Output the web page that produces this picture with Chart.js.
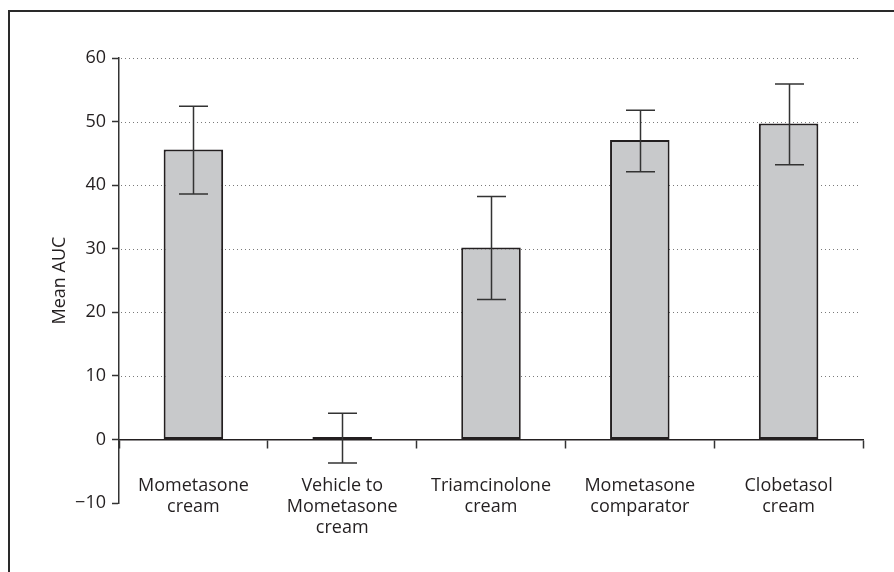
<!DOCTYPE html>
<html>
<head>
<meta charset="utf-8">
<script src="https://cdn.jsdelivr.net/npm/chart.js@4/dist/chart.umd.min.js"></script>
<style>
  html, body { margin: 0; padding: 0; background: #fff; overflow: hidden; }
  #wrap { position: relative; width: 894px; height: 572px; }
  #frame { position: absolute; left: 8px; top: 10px; width: 1000px; height: 700px; border: 2px solid #2a2a2a; box-sizing: border-box; }
  canvas { position: absolute; left: 0; top: 0; }
</style>
</head>
<body>
<div id="wrap">
  <div id="frame"></div>
  <canvas id="c" width="894" height="572"></canvas>
</div>
<script>
const categories = [
  ['Mometasone', 'cream'],
  ['Vehicle to', 'Mometasone', 'cream'],
  ['Triamcinolone', 'cream'],
  ['Mometasone', 'comparator'],
  ['Clobetasol', 'cream']
];
const meanAUC = [45.6, 0.4, 30.2, 47.1, 49.7];
const errorHigh = [52.4, 4.1, 38.2, 51.8, 55.9];
const errorLow = [38.6, -3.7, 22.0, 42.1, 43.2];
const yTicks = [-10, 0, 10, 20, 30, 40, 50, 60];
const yTitle = 'Mean AUC';

const TEXT = '#231f20';
const FONT = { family: "'Open Sans', 'Noto Sans', sans-serif", size: 18, lineHeight: 1.17 };

const gridPlugin = {
  id: 'dottedGrid',
  beforeDatasetsDraw(chart) {
    const { ctx, chartArea, scales: { y } } = chart;
    ctx.save();
    ctx.strokeStyle = '#7a7a7a';
    ctx.lineWidth = 1;
    ctx.setLineDash([1, 3]);
    y.ticks.forEach(t => {
      if (t.value > 0) {
        const py = Math.round(y.getPixelForValue(t.value)) + 0.5;
        ctx.beginPath();
        ctx.moveTo(chartArea.left + 2, py);
        ctx.lineTo(chartArea.right - 2, py);
        ctx.stroke();
      }
    });
    ctx.restore();
  }
};

const errorPlugin = {
  id: 'errorBars',
  afterDatasetsDraw(chart) {
    const { ctx, scales: { y } } = chart;
    const meta = chart.getDatasetMeta(0);
    ctx.save();
    ctx.strokeStyle = '#333333';
    ctx.lineWidth = 1.5;
    meta.data.forEach((bar, i) => {
      const x = Math.round(bar.x) + 0.5;
      const yh = y.getPixelForValue(errorHigh[i]);
      const yl = y.getPixelForValue(errorLow[i]);
      const half = 14.5;
      ctx.beginPath();
      ctx.moveTo(x, yh); ctx.lineTo(x, yl);
      ctx.moveTo(x - half, yh); ctx.lineTo(x + half, yh);
      ctx.moveTo(x - half, yl); ctx.lineTo(x + half, yl);
      ctx.stroke();
    });
    ctx.restore();
  }
};

new Chart(document.getElementById('c'), {
  type: 'bar',
  data: {
    labels: categories,
    datasets: [{
      data: meanAUC,
      backgroundColor: '#c8c9cb',
      borderColor: '#231f20',
      borderWidth: 2,
      borderSkipped: false,
      barPercentage: 0.4,
      categoryPercentage: 1.0
    }]
  },
  options: {
    responsive: false,
    animation: false,
    devicePixelRatio: 1,
    layout: { padding: { left: 0, right: 31, top: 58, bottom: 69 } },
    plugins: { legend: { display: false }, tooltip: { enabled: false } },
    scales: {
      x: {
        position: { y: 0 },
        offset: true,
        grid: { offset: true, drawOnChartArea: false, drawTicks: true, tickLength: 8, tickColor: '#333', tickWidth: 1.5 },
        border: { display: true, color: '#231f20', width: 1.5 },
        ticks: { color: TEXT, font: FONT, padding: 28, maxRotation: 0, autoSkip: false }
      },
      y: {
        min: -10,
        max: 60,
        afterFit(scale) { scale.width = 119; },
        afterBuildTicks(scale) { scale.ticks = yTicks.map(v => ({ value: v })); },
        grid: { drawOnChartArea: false, drawTicks: true, tickLength: 7, tickColor: '#333', tickWidth: 1.5 },
        border: { display: true, color: '#333', width: 1.5 },
        ticks: {
          color: TEXT, font: FONT, padding: 6,
          callback: v => (v < 0 ? '\u2212' + Math.abs(v) : String(v))
        },
        title: { display: true, text: yTitle, color: TEXT, font: FONT, padding: { top: 49, bottom: 0 } }
      }
    }
  },
  plugins: [gridPlugin, errorPlugin]
});
</script>
</body>
</html>
